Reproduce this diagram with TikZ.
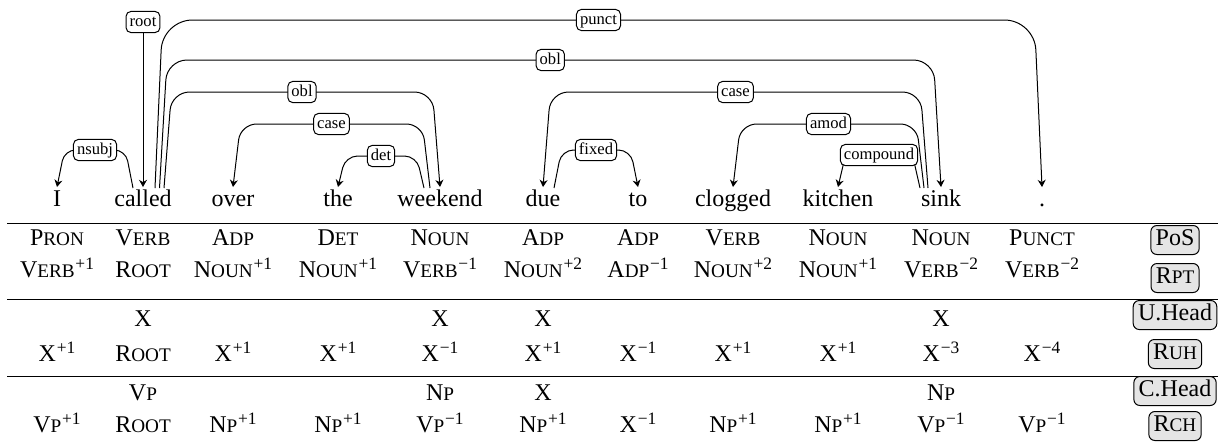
\documentclass[tikz,border=0pt]{standalone}
\usepackage{fontspec}
\setmainfont{Liberation Serif}
\usetikzlibrary{arrows.meta,calc}

% fake small capitals and raised exponents
\newcommand\scx[2]{#1{\fontsize{9.6}{11}\selectfont #2}}
\newcommand\supx[1]{\kern0.4pt\raisebox{4pt}{\fontsize{8.7}{10}\selectfont #1}}
\newcommand\tPron{\scx{P}{RON}}
\newcommand\tVerb{\scx{V}{ERB}}
\newcommand\tAdp{\scx{A}{DP}}
\newcommand\tDet{\scx{D}{ET}}
\newcommand\tNoun{\scx{N}{OUN}}
\newcommand\tPunct{\scx{P}{UNCT}}
\newcommand\tRoot{\scx{R}{OOT}}
\newcommand\tVp{\scx{V}{P}}
\newcommand\tNp{\scx{N}{P}}

\begin{document}
\begin{tikzpicture}[x=0.5pt,y=-0.5pt,
  every node/.style={font=\fontsize{12}{14}\selectfont, inner sep=0pt},
  word/.style={anchor=base},
  cell/.style={anchor=base},
  dep/.style={line width=0.5pt, -{Stealth[length=3.6pt,width=4pt]}},
  lab/.style={draw, fill=white, rounded corners=2.5pt, line width=0.5pt,
    font=\fontsize{8.3}{9}\selectfont, inner xsep=1.8pt, inner ysep=1.4pt,
    text height=5.9pt, text depth=1.9pt},
  tag/.style={draw, fill=gray!20, rounded corners=3pt, line width=0.5pt,
    inner xsep=2.4pt, inner ysep=1.5pt, text height=8.6pt, text depth=2.9pt},
  rule/.style={line width=0.5pt}]
\useasboundingbox (0,0) rectangle (1218,441);

% sentence
\node[word] (w1)  at (57,206)   {I};
\node[word] (w2)  at (143,206)  {called};
\node[word] (w3)  at (233,206)  {over};
\node[word] (w4)  at (338,206)  {the};
\node[word] (w5)  at (440,206)  {weekend};
\node[word] (w6)  at (543,206)  {due};
\node[word] (w7)  at (638,206)  {to};
\node[word] (w8)  at (733,206)  {clogged};
\node[word] (w9)  at (838,206)  {kitchen};
\node[word] (w10) at (941,206)  {sink};
\node[word] (w11) at (1042,206) {.};

% dependency arcs
\node[lab] (lroot) at (143,22) {root};
\draw[dep] (lroot) -- ([shift={(0,-19)}]w2.base);

\draw[dep, rounded corners=5.5pt] ([shift={(-10,-18)}]w2.base) -- ++(-7.5,-38) coordinate (c1)
  -- ([shift={(7.5,-56)}]w1.base) coordinate (c2) -- ([shift={(0,-19)}]w1.base);
\node[lab] (l1) at ($(c1)!0.5!(c2)$) {nsubj};

\draw[dep, rounded corners=15pt] ([shift={(12,-18)}]w2.base) -- ++(7.5,-168) coordinate (c1)
  -- ([shift={(-7.5,-186)}]w11.base) coordinate (c2) -- ([shift={(0,-19)}]w11.base);
\node[lab] (l2) at ($(c1)!0.5!(c2)$) {punct};

\draw[dep, rounded corners=10pt] ([shift={(16.5,-18)}]w2.base) -- ++(7.5,-128) coordinate (c1)
  -- ([shift={(-7.5,-146)}]w10.base) coordinate (c2) -- ([shift={(0,-19)}]w10.base);
\node[lab] (l3) at ($(c1)!0.5!(c2)$) {obl};

\draw[dep, rounded corners=9pt] ([shift={(21,-18)}]w2.base) -- ++(7.5,-96) coordinate (c1)
  -- ([shift={(-7.5,-114)}]w5.base) coordinate (c2) -- ([shift={(0,-19)}]w5.base);
\node[lab] (l4) at ($(c1)!0.5!(c2)$) {obl};

\draw[dep, rounded corners=8pt] ([shift={(-10,-18)}]w5.base) -- ++(-7.5,-64) coordinate (c1)
  -- ([shift={(7.5,-82)}]w3.base) coordinate (c2) -- ([shift={(0,-19)}]w3.base);
\node[lab] (l5) at ($(c1)!0.5!(c2)$) {case};

\draw[dep, rounded corners=6pt] ([shift={(-16,-18)}]w5.base) -- ++(-7.5,-32) coordinate (c1)
  -- ([shift={(7.5,-50)}]w4.base) coordinate (c2) -- ([shift={(0,-19)}]w4.base);
\node[lab] (l6) at ($(c1)!0.5!(c2)$) {det};

\draw[dep, rounded corners=9pt] ([shift={(-13,-18)}]w10.base) -- ++(-7.5,-96) coordinate (c1)
  -- ([shift={(7.5,-114)}]w6.base) coordinate (c2) -- ([shift={(0,-19)}]w6.base);
\node[lab] (l7) at ($(c1)!0.5!(c2)$) {case};

\draw[dep, rounded corners=6pt] ([shift={(11,-18)}]w6.base) -- ++(7.5,-38) coordinate (c1)
  -- ([shift={(-7.5,-56)}]w7.base) coordinate (c2) -- ([shift={(0,-19)}]w7.base);
\node[lab] (l8) at ($(c1)!0.5!(c2)$) {fixed};

\draw[dep, rounded corners=8pt] ([shift={(-17,-18)}]w10.base) -- ++(-7.5,-64) coordinate (c1)
  -- ([shift={(7.5,-82)}]w8.base) coordinate (c2) -- ([shift={(0,-19)}]w8.base);
\node[lab] (l9) at ($(c1)!0.5!(c2)$) {amod};

\draw[dep, rounded corners=5pt] ([shift={(-21,-18)}]w10.base) -- ++(-7.5,-33) coordinate (c1)
  -- ([shift={(7.5,-51)}]w9.base) coordinate (c2) -- ([shift={(0,-19)}]w9.base);
\node[lab] (l10) at ($(c1)!0.5!(c2)$) {compound};

% table rules
\draw[rule] (7,223) -- (1218,223);
\draw[rule] (7,299) -- (1218,299);
\draw[rule] (7,376) -- (1218,376);

% row baselines
\coordinate (r1) at (0,245);
\coordinate (r2) at (0,277);
\coordinate (r3) at (0,326);
\coordinate (r4) at (0,361);
\coordinate (r5) at (0,400);
\coordinate (r6) at (0,432);

\foreach \t [count=\i] in {\tPron,\tVerb,\tAdp,\tDet,\tNoun,\tAdp,\tAdp,\tVerb,\tNoun,\tNoun,\tPunct}
  \node[cell] (p\i) at (w\i |- r1) {\t};

\foreach \t [count=\i] in {\tVerb\supx{+1},\tRoot,\tNoun\supx{+1},\tNoun\supx{+1},\tVerb\supx{−1},
    \tNoun\supx{+2},\tAdp\supx{−1},\tNoun\supx{+2},\tNoun\supx{+1},\tVerb\supx{−2},\tVerb\supx{−2}}
  \node[cell] (q\i) at (w\i |- r2) {\t};

\node[cell] (u2)  at (w2 |- r3)  {X};
\node[cell] (u5)  at (w5 |- r3)  {X};
\node[cell] (u6)  at (w6 |- r3)  {X};
\node[cell] (u10) at (w10 |- r3) {X};

\foreach \t [count=\i] in {X\supx{+1},\tRoot,X\supx{+1},X\supx{+1},X\supx{−1},
    X\supx{+1},X\supx{−1},X\supx{+1},X\supx{+1},X\supx{−3},X\supx{−4}}
  \node[cell] (v\i) at (w\i |- r4) {\t};

\node[cell] (h2)  at (w2 |- r5)  {\tVp};
\node[cell] (h5)  at (w5 |- r5)  {\tNp};
\node[cell] (h6)  at (w6 |- r5)  {X};
\node[cell] (h10) at (w10 |- r5) {\tNp};

\foreach \t [count=\i] in {\tVp\supx{+1},\tRoot,\tNp\supx{+1},\tNp\supx{+1},\tVp\supx{−1},
    \tNp\supx{+1},X\supx{−1},\tNp\supx{+1},\tNp\supx{+1},\tVp\supx{−1},\tVp\supx{−1}}
  \node[cell] (k\i) at (w\i |- r6) {\t};

% row tags
\node[tag] (tag1) at (1175,240) {PoS};
\node[tag] (tag2) at (1175,278) {\scx{R}{PT}};
\node[tag] (tag3) at (1175,315) {U.Head};
\node[tag] (tag4) at (1175,354) {\scx{R}{UH}};
\node[tag] (tag5) at (1175,391) {C.Head};
\node[tag] (tag6) at (1175,426) {\scx{R}{CH}};
\end{tikzpicture}
\end{document}
